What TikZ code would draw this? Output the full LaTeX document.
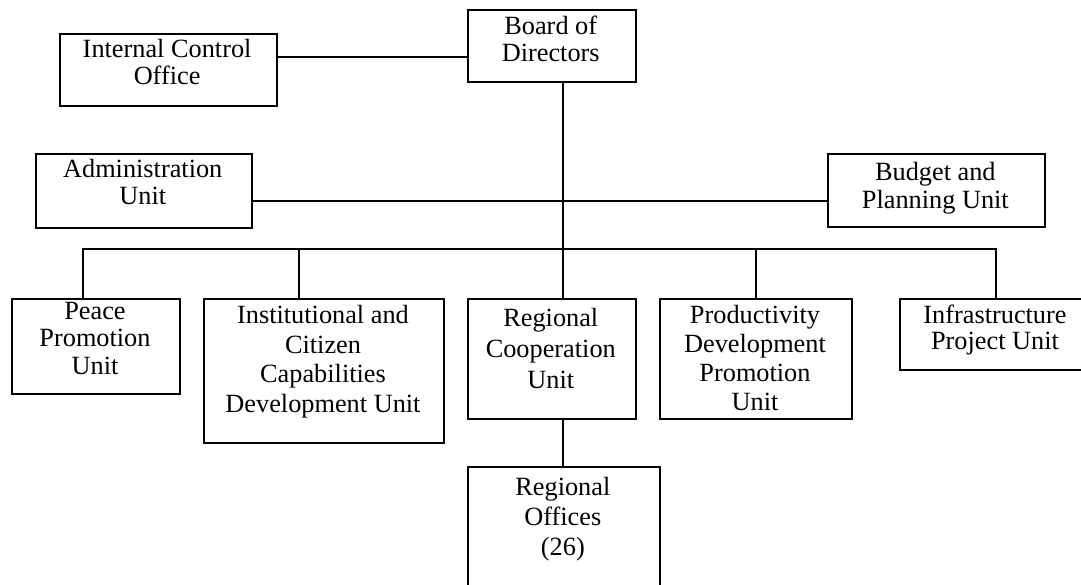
\documentclass[tikz,border=0pt]{standalone}
\usepackage{fontspec}
\setmainfont{Liberation Serif}
\begin{document}
\begin{tikzpicture}[x=1pt,y=-1pt,
  unitbox/.style={draw, line width=2pt, inner sep=0pt, anchor=north west},
  unittext/.style={inner sep=0pt, anchor=north, align=center,
                   font=\fontsize{26.3}{#1}\selectfont},
  unittext/.default=27,
  link/.style={line width=2pt}]
\useasboundingbox (0,0) rectangle (1081,585);
\clip (0,0) rectangle (1081,585);

% boxes
\node[unitbox, minimum width=168.5pt, minimum height=72.2pt] (board)  at (466.5,9.3)   {};
\node[unitbox, minimum width=217.2pt, minimum height=72pt]   (ico)    at (58.5,33.3)   {};
\node[unitbox, minimum width=216.5pt, minimum height=74pt]   (admin)  at (34.5,153)    {};
\node[unitbox, minimum width=217.3pt, minimum height=72.7pt] (budget) at (826.7,153.3) {};
\node[unitbox, minimum width=168.6pt, minimum height=95.5pt] (peace)  at (10.7,297.5)  {};
\node[unitbox, minimum width=240.6pt, minimum height=144.2pt](inst)   at (202.7,297.5) {};
\node[unitbox, minimum width=168.4pt, minimum height=120pt]  (coop)   at (466.6,297.5) {};
\node[unitbox, minimum width=192pt,   minimum height=120pt]  (prod)   at (659,297.5)   {};
\node[unitbox, minimum width=192pt,   minimum height=71.5pt] (infra)  at (899,297.5)   {};
\node[unitbox, minimum width=192.3pt, minimum height=140pt]  (ro)     at (466.7,465.5) {};

% labels
\node[unittext=26.7] (boardtx)  at (550.75,15.6) {\strut Board of\\Directors};
\node[unittext=26.7] (icotx)    at (167.1,38.6)  {\strut Internal Control\\Office};
\node[unittext=26.6] (admintx)  at (142.75,159.1){\strut Administration\\Unit};
\node[unittext=27.8] (budgettx) at (935.35,161.0){\strut Budget and\\Planning Unit};
\node[unittext=27.3] (peacetx)  at (95,300.2)    {\strut Peace\\Promotion\\Unit};
\node[unittext=29.5] (insttx)   at (323,302.7)   {\strut Institutional and\\Citizen\\Capabilities\\Development Unit};
\node[unittext=31]   (cooptx)   at (550.8,305.0) {\strut Regional\\Cooperation\\Unit};
\node[unittext=29.2] (prodtx)   at (755,302.6)   {\strut Productivity\\Development\\Promotion\\Unit};
\node[unittext=25.6] (infratx)  at (995,304.8)   {\strut Infrastructure\\Project Unit};
\node[unittext=30]   (rotx)     at (562.85,474)  {\strut Regional\\Offices\\(26)};

% connector levels
\coordinate (spine) at (563.3,0);
\coordinate (ctl)   at (0,57.3);
\coordinate (adm)   at (0,201.5);
\coordinate (dpeace) at (82.7,249.5);
\coordinate (dinst)  at (299,249.5);

% connectors
\draw[link] (ico.east |- ctl) -- (board.west |- ctl);
\draw[link] (board.south -| spine) -- (coop.north -| spine);
\draw[link] (admin.east |- adm) -- (budget.west |- adm);
\draw[link] (peace.north -| dpeace) -- (dpeace) -- (dpeace -| infra.north) -- (infra.north);
\draw[link] (dinst) -- (inst.north -| dinst);
\draw[link] (dinst -| prod.north) -- (prod.north);
\draw[link] (coop.south -| spine) -- (ro.north -| spine);
\end{tikzpicture}
\end{document}
